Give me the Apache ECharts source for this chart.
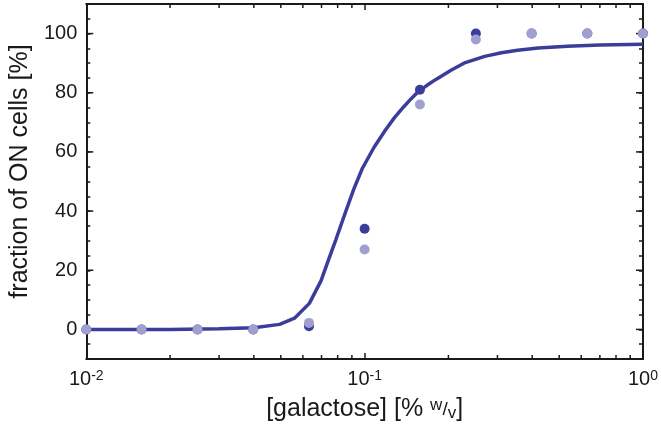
<!DOCTYPE html>
<html>
<head>
<meta charset="utf-8">
<script src="https://cdn.jsdelivr.net/npm/echarts@6/dist/echarts.min.js"></script>
<style>
html,body{margin:0;padding:0;background:#fff;}
#chart{width:661px;height:427px;}
</style>
</head>
<body>
<div id="chart"></div>
<script>
// galactose concentrations [% w/v]
var galactose = [0.01, 0.0158, 0.0251, 0.0398, 0.0631, 0.1, 0.158, 0.251, 0.398, 0.631, 1.0];
// fraction of ON cells [%], replicate 1 (dark) and replicate 2 (light)
var onDark  = [0, 0, 0, 0, 1.1, 34, 81, 100, 100, 100, 100];
var onLight = [0, 0, 0, 0, 2.2, 27, 76, 98, 100, 100, 100];
// fitted curve
var curveX = [0.01, 0.02, 0.03, 0.04, 0.0495, 0.056, 0.0633, 0.0697, 0.0746, 0.0788, 0.0855, 0.0915, 0.0981, 0.108, 0.1188, 0.128, 0.138, 0.147, 0.156, 0.168, 0.181, 0.205, 0.23, 0.27, 0.31, 0.3545, 0.42, 0.535, 0.7, 1.0];
var curveY = [0, 0, 0.2, 0.6, 1.7, 3.8, 8.8, 16.4, 24.2, 30.3, 39.8, 47.5, 54.4, 61.5, 67.4, 71.6, 75.2, 78.0, 80.4, 82.6, 84.6, 87.7, 90.2, 92.3, 93.5, 94.4, 95.1, 95.7, 96.1, 96.4];
// axis ticks
var xMinorTicks = [0.02,0.03,0.04,0.05,0.06,0.07,0.08,0.09,0.2,0.3,0.4,0.5,0.6,0.7,0.8,0.9];
var yMajorTicks = [0, 20, 40, 60, 80, 100];
var yLabels = ['0', '20', '40', '60', '80', '100'];

var X_MIN = 0.01, X_MAX = 1, Y_MIN = -10, Y_MAX = 110;
var DARK = '#3a3d9a', LIGHT = '#a09fd0', AX = '#1a1a1a';
var FONT = 'Liberation Sans';

function zip(a, b) { return a.map(function (v, i) { return [v, b[i]]; }); }

var chart = echarts.init(document.getElementById('chart'), null, {renderer: 'canvas'});

var axisBase = {
  axisLine: {show: true, onZero: false, lineStyle: {color: AX, width: 2}},
  splitLine: {show: false}
};

chart.setOption({
  animation: false,
  backgroundColor: '#fff',
  grid: {left: 85, right: 14, top: 4, bottom: 66, containLabel: false},
  xAxis: [
    Object.assign({}, axisBase, {
      type: 'log', logBase: 10, min: X_MIN, max: X_MAX, position: 'bottom',
      axisTick: {show: true, inside: true, length: 6, lineStyle: {color: AX, width: 1.5}},
      axisLabel: {
        margin: 10, color: AX, fontFamily: FONT,
        formatter: function (v) {
          var e = Math.round(Math.log(v) / Math.LN10);
          return '{b|10}{s|' + e + '}';
        },
        rich: {
          b: {fontSize: 20, fontFamily: FONT, color: AX},
          s: {fontSize: 14, fontFamily: FONT, color: AX, verticalAlign: 'top'}
        }
      },
      name: '[galactose] [% {w|w}{sl|/}{v|v}]',
      nameLocation: 'middle', nameGap: 38,
      nameTextStyle: {
        fontSize: 25, fontFamily: FONT, color: AX,
        rich: {
          w: {fontSize: 17, fontFamily: FONT, color: AX, verticalAlign: 'top'},
          sl: {fontSize: 19, fontFamily: FONT, color: AX},
          v: {fontSize: 17, fontFamily: FONT, color: AX, verticalAlign: 'bottom'}
        }
      }
    }),
    Object.assign({}, axisBase, {
      type: 'log', logBase: 10, min: X_MIN, max: X_MAX, position: 'top',
      axisTick: {show: true, inside: true, length: 6, lineStyle: {color: AX, width: 1.5}},
      axisLabel: {show: false}
    })
  ],
  yAxis: [
    Object.assign({}, axisBase, {
      type: 'value', min: Y_MIN, max: Y_MAX, interval: 5, position: 'left',
      axisTick: {show: true, inside: true, length: 4, lineStyle: {color: AX, width: 1.5}},
      axisLabel: {
        margin: 9, fontSize: 20, fontFamily: FONT, color: AX,
        formatter: function (v) {
          var i = yMajorTicks.indexOf(v);
          return i >= 0 ? yLabels[i] : '';
        }
      },
      name: 'fraction of ON cells [%]',
      nameLocation: 'middle', nameGap: 49,
      nameTextStyle: {fontSize: 25, fontFamily: FONT, color: AX, padding: [0, 0, 0, 20]}
    }),
    Object.assign({}, axisBase, {
      type: 'value', min: Y_MIN, max: Y_MAX, interval: 5, position: 'right',
      axisTick: {show: true, inside: true, length: 4, lineStyle: {color: AX, width: 1.5}},
      axisLabel: {show: false}
    })
  ],
  series: [
    {
      type: 'custom', name: 'xMinor', xAxisIndex: 0, yAxisIndex: 0, clip: false, silent: true, z: 1,
      data: xMinorTicks.map(function (v) { return [v]; }),
      renderItem: function (params, api) {
        var x = api.value(0);
        var b = api.coord([x, Y_MIN]);
        var t = api.coord([x, Y_MAX]);
        var st = {stroke: AX, lineWidth: 1.5};
        return {type: 'group', children: [
          {type: 'line', shape: {x1: b[0], y1: b[1], x2: b[0], y2: b[1] - 4}, style: st},
          {type: 'line', shape: {x1: t[0], y1: t[1], x2: t[0], y2: t[1] + 4}, style: st}
        ]};
      }
    },
    {
      type: 'custom', name: 'yMajor', xAxisIndex: 0, yAxisIndex: 0, clip: false, silent: true, z: 1,
      data: yMajorTicks.map(function (v) { return [X_MIN, v]; }),
      renderItem: function (params, api) {
        var y = api.value(1);
        var l = api.coord([X_MIN, y]);
        var r = api.coord([X_MAX, y]);
        var st = {stroke: AX, lineWidth: 1.5};
        return {type: 'group', children: [
          {type: 'line', shape: {x1: l[0], y1: l[1], x2: l[0] + 7, y2: l[1]}, style: st},
          {type: 'line', shape: {x1: r[0], y1: r[1], x2: r[0] - 7, y2: r[1]}, style: st}
        ]};
      }
    },
    {
      type: 'line', name: 'fit', data: zip(curveX, curveY), showSymbol: false, symbol: 'none',
      lineStyle: {color: DARK, width: 3.5}, z: 3, clip: true
    },
    {
      type: 'scatter', name: 'rep1', data: zip(galactose, onDark), symbolSize: 10,
      itemStyle: {color: DARK, opacity: 1}, z: 4, clip: false
    },
    {
      type: 'scatter', name: 'rep2', data: zip(galactose, onLight), symbolSize: 10,
      itemStyle: {color: LIGHT, opacity: 1}, z: 5, clip: false
    }
  ]
});
</script>
</body>
</html>
